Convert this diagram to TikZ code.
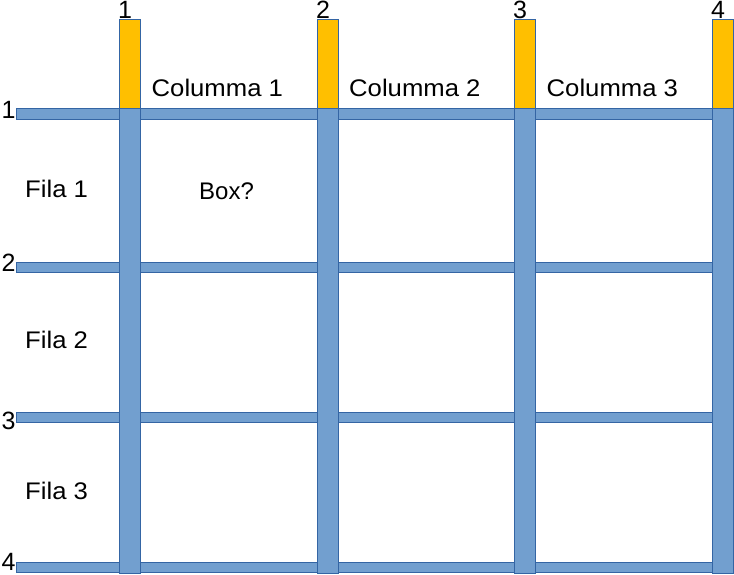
\documentclass[tikz,border=0pt]{standalone}
\usepackage{fontspec}
\setmainfont{Liberation Sans}
\definecolor{barblue}{HTML}{729FCF}
\definecolor{barline}{HTML}{3465A4}
\definecolor{baryellow}{HTML}{FFBF00}
\begin{document}
\begin{tikzpicture}[x=1pt,y=-1pt,
  bar/.style={fill=barblue,draw=barline,line width=0.8pt},
  ybar/.style={fill=baryellow,draw=barline,line width=0.8pt},
  num/.style={inner sep=0pt,anchor=base west,font=\fontsize{25}{30}\selectfont},
  lab/.style={inner sep=0pt,anchor=base west,font=\fontsize{24}{29}\selectfont,text=black}]
\useasboundingbox (0,0) rectangle (734,574);
% yellow column heads
\foreach \x in {119,317,514,712} {
  \filldraw[ybar] (\x,19) rectangle (\x+21,108);
}
% horizontal bars
\filldraw[bar] (16,108) rectangle (733,119);
\filldraw[bar] (16,262) rectangle (733,272);
\filldraw[bar] (16,412.7) rectangle (733,422.7);
\filldraw[bar] (16,562.7) rectangle (733,572.7);
% vertical bars
\foreach \x in {119,317,514,712} {
  \filldraw[bar] (\x,108) rectangle (\x+21,573);
}
% column numbers
\node[num] (c1) at (118,18.8) {1};
\node[num] (c2) at (316,18.8) {2};
\node[num] (c3) at (513,18.8) {3};
\node[num] (c4) at (711,18.8) {4};
% row numbers
\node[num] (r1) at (1.5,118) {1};
\node[num] (r2) at (1.5,271) {2};
\node[num] (r3) at (1.5,429.5) {3};
\node[num] (r4) at (1.5,570.5) {4};
% column labels
\node[lab] (col1) at (151.5,96.5) {\scalebox{1.07}[1]{Columma 1}};
\node[lab] (col2) at (349,96.5) {\scalebox{1.07}[1]{Columma 2}};
\node[lab] (col3) at (546.5,96.5) {\scalebox{1.07}[1]{Columma 3}};
% row labels
\node[lab] (fila1) at (25,197) {\scalebox{1.07}[1]{Fila 1}};
\node[lab] (fila2) at (25,348) {\scalebox{1.07}[1]{Fila 2}};
\node[lab] (fila3) at (25,499.5) {\scalebox{1.07}[1]{Fila 3}};
% box label
\node[lab] (box) at (199,199) {Box?};
\end{tikzpicture}
\end{document}
